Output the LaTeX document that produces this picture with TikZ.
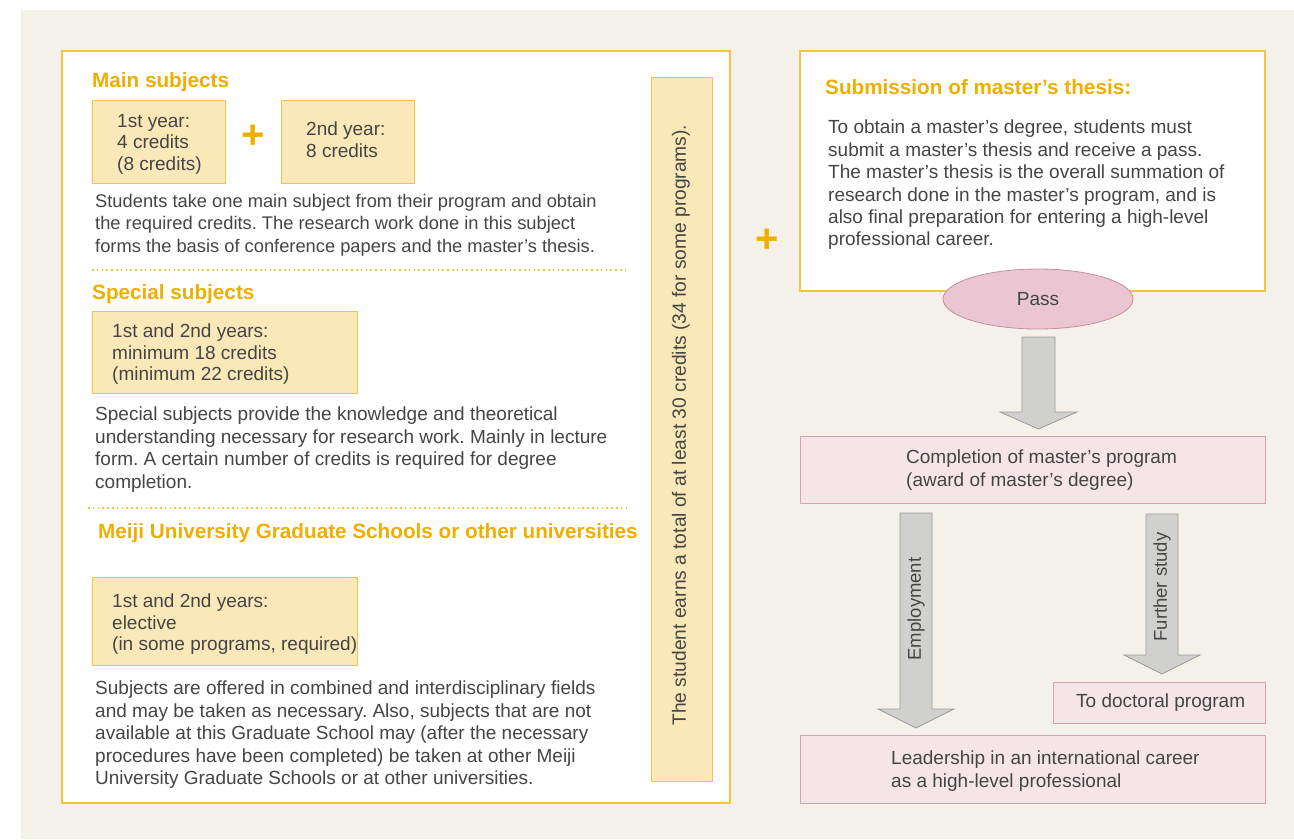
\documentclass[tikz,border=0pt]{standalone}
\usepackage{fontspec}
\setmainfont{Liberation Sans}
\usetikzlibrary{calc}
\frenchspacing
\definecolor{bgc}{HTML}{F4F1EA}
\definecolor{goldline}{HTML}{F2C440}
\definecolor{ybox}{HTML}{FAE8B9}
\definecolor{yboxline}{HTML}{F4C34E}
\definecolor{headc}{HTML}{EDAF00}
\definecolor{txt}{HTML}{454545}
\definecolor{pinkf}{HTML}{F5E5E8}
\definecolor{pinkl}{HTML}{D7A3B1}
\definecolor{passf}{HTML}{E9C6D1}
\definecolor{passl}{HTML}{C98CA0}
\definecolor{arrf}{HTML}{D0D1CF}
\definecolor{arrl}{HTML}{9A9A9A}
\tikzset{
  body/.style={anchor=north west,inner sep=0pt,align=left,text=txt,font=\fontsize{19}{22.4}\selectfont\frenchspacing},
  bodyA/.style={body,font=\fontsize{18.3}{22.4}\selectfont\frenchspacing},
  boxtxt/.style={anchor=north west,inner sep=0pt,align=left,text=txt,font=\fontsize{19}{21.5}\selectfont},
  heading/.style={anchor=base west,inner sep=0pt,text=headc,font=\fontsize{20.7}{24}\selectfont\bfseries},
  yrect/.style={fill=ybox,draw=yboxline,line width=1pt},
  prect/.style={fill=pinkf,draw=pinkl,line width=1pt},
  panel/.style={fill=white,draw=goldline,line width=1.2pt},
  plusmark/.style={text=headc,font=\fontsize{40}{40}\selectfont\bfseries,inner sep=0pt},
  blockarrow/.style={fill=arrf,draw=arrl,line width=0.8pt},
  dotline/.style={draw=goldline,line width=1.6pt,dash pattern=on 1.6pt off 3.2pt},
  rotlabel/.style={rotate=90,inner sep=0pt,text=txt,font=\fontsize{18.5}{21}\selectfont},
}
\begin{document}
\begin{tikzpicture}[x=1pt,y=-1pt]
\useasboundingbox (0,0) rectangle (1294,839);
\fill[bgc] (21,10) rectangle (1294,839);
% left panel
\draw[panel] (62,51) rectangle (730,803);
\node[heading] (h1) at (92,87) {Main subjects};
\draw[yrect] (92,100) rectangle (225,183);
\node[boxtxt] (b1) at (117,114) {1st year:\\4 credits\\(8 credits)};
\node[plusmark] (p1) at (253,137) {+};
\draw[yrect] (281,100) rectangle (414,183);
\node[boxtxt] (b2) at (306,122) {2nd year:\\8 credits};
\node[bodyA] (t1) at (95,194) {Students take one main subject from their program and obtain\\the required credits. The research work done in this subject\\forms the basis of conference papers and the master’s thesis.};
\draw[dotline] (92,270) -- (628,270);
\node[heading] (h2) at (92,299) {Special subjects};
\draw[yrect] (92,311) rectangle (357,393);
\node[boxtxt] (b3) at (112,324) {1st and 2nd years:\\minimum 18 credits\\(minimum 22 credits)};
\node[body] (t2) at (95,407) {Special subjects provide the knowledge and theoretical\\understanding necessary for research work. Mainly in lecture\\form. A certain number of credits is required for degree\\completion.};
\draw[dotline] (88,508) -- (628,508);
\node[heading] (h3) at (98,538) {Meiji University Graduate Schools or other universities};
\draw[yrect] (92,577) rectangle (357,665);
\node[boxtxt] (b4) at (112,594) {1st and 2nd years:\\elective\\(in some programs, required)};
\node[body] (t3) at (95,681) {Subjects are offered in combined and interdisciplinary fields\\and may be taken as necessary. Also, subjects that are not\\available at this Graduate School may (after the necessary\\procedures have been completed) be taken at other Meiji\\University Graduate Schools or at other universities.};
% vertical total box
\draw[yrect] (651,77) rectangle (712,781);
\node[rotlabel,font=\fontsize{19.2}{21}\selectfont] (vt) at (681,425) {The student earns a total of at least 30 credits (34 for some programs).};
\node[plusmark] (p2) at (767,241) {+};
% right panel
\draw[panel] (800,51) rectangle (1265,291);
\node[heading] (h4) at (825,94) {Submission of master’s thesis:};
\node[body] (t4) at (828,120) {To obtain a master’s degree, students must\\submit a master’s thesis and receive a pass.\\The master’s thesis is the overall summation of\\research done in the master’s program, and is\\also final preparation for entering a high-level\\professional career.};
\draw[fill=passf,draw=passl,line width=0.8pt] (1038,299) ellipse [x radius=95,y radius=30];
\node[inner sep=0pt,text=txt,font=\fontsize{19}{21}\selectfont] (pass) at (1038,299) {Pass};
% arrow 1
\draw[blockarrow] (1022,337) -- (1055,337) -- (1055,412) -- (1077,412) -- (1038.5,429) -- (1000,412) -- (1022,412) -- cycle;
% completion box
\draw[prect] (800,436) rectangle (1265,503);
\node[body] (c1) at (906,450) {Completion of master’s program\\(award of master’s degree)};
% employment arrow
\draw[blockarrow] (900,513) -- (932,513) -- (932,709) -- (954,709) -- (916,728) -- (878,709) -- (900,709) -- cycle;
\node[rotlabel] (emp) at (916,609) {Employment};
% further study arrow
\draw[blockarrow] (1146,514) -- (1178,514) -- (1178,655) -- (1200,655) -- (1162,674) -- (1124,655) -- (1146,655) -- cycle;
\node[rotlabel] (fs) at (1162,587) {Further study};
% doctoral box
\draw[prect] (1053,682) rectangle (1265,723);
\node[body,anchor=west] (d1) at (1076,703) {To doctoral program};
% leadership box
\draw[prect] (800,735) rectangle (1265,803);
\node[body] (l1) at (891,751) {Leadership in an international career\\as a high-level professional};
\end{tikzpicture}
\end{document}
